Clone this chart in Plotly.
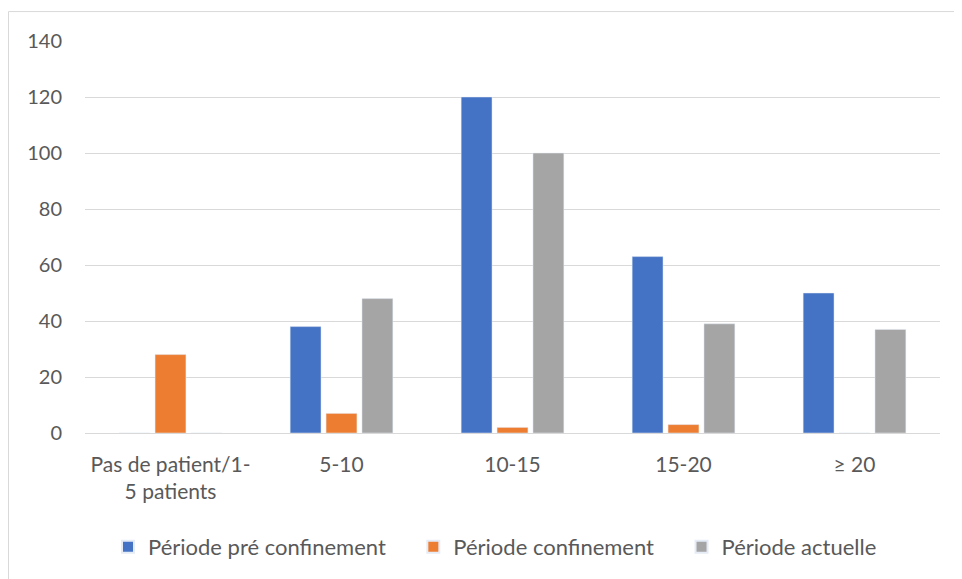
import plotly.graph_objects as go

categories = ["Pas de patient/1-<br>5 patients", "5-10", "10-15", "15-20", "≥ 20"]
pre_confinement = [0, 38, 120, 63, 50]
confinement = [28, 7, 2, 3, 0]
actuelle = [0, 48, 100, 39, 37]
series_names = ["Période pré confinement", "Période confinement", "Période actuelle"]
y_ticks = [0, 20, 40, 60, 80, 100, 120, 140]

# page body has an 8px margin; compensate so the picture lines up with the window
OFF = 8
W, H = 962 - OFF, 579 - OFF
L, R, T, B = 85 - OFF, 22, 41 - OFF, 145
pw, ph = W - L - R, H - T - B

def px_x(x):
    return (x - OFF - L) / pw

def px_y(y):
    return (H - B - (y - OFF)) / ph

base = dict(family="Lato, 'Open Sans', sans-serif", color="#595959")
yfont = dict(base, size=20)
xfont = dict(base, size=21)
lfont = dict(base, size=22)

pad = "\u00a0" * 4
fig = go.Figure()
for i, (name, vals, col) in enumerate(zip(series_names, [pre_confinement, confinement, actuelle],
                                          ["#4472C4", "#ED7D31", "#A5A5A5"])):
    label = name + (pad if i < len(series_names) - 1 else "")
    fig.add_trace(go.Bar(x=categories, y=vals, name=label, marker_color=col))

fig.update_layout(
    width=W, height=H,
    margin=dict(l=L, r=R, t=T, b=B),
    paper_bgcolor="white", plot_bgcolor="white",
    font=yfont,
    barmode="group", bargap=0.37, bargroupgap=0.14,
    showlegend=True,
    legend=dict(orientation="h", x=px_x(495), xanchor="center",
                y=px_y(547), yanchor="middle", font=lfont, itemwidth=30,
                itemsizing="constant", traceorder="normal"),
    xaxis=dict(showgrid=False, showline=False, ticks="", ticklabelstandoff=17,
               tickfont=xfont),
    yaxis=dict(range=[0, 140], tickvals=y_ticks, showgrid=True, gridcolor="#D9D9D9",
               gridwidth=1, zeroline=True, zerolinecolor="#D9D9D9", zerolinewidth=1,
               showline=False, ticks="", ticklabelstandoff=22, tickfont=yfont),
    shapes=[dict(type="rect", xref="paper", yref="paper",
                 x0=px_x(8.5), x1=px_x(962 + 20), y0=px_y(579 + 20), y1=px_y(11.5),
                 line=dict(color="#D9D9D9", width=1), fillcolor="rgba(0,0,0,0)",
                 layer="below")],
)

fig.write_html("out.html")
